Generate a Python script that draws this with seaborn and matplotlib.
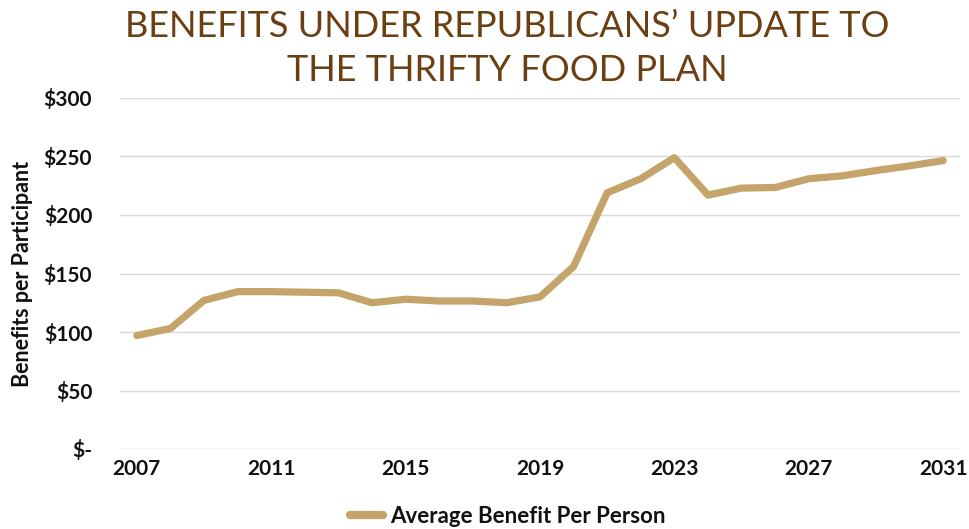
import matplotlib
matplotlib.use("Agg")
import matplotlib.pyplot as plt
import seaborn as sns
import pandas as pd
from matplotlib.ticker import FuncFormatter

years = list(range(2007, 2032))
benefits = [97, 103, 127, 134.5, 134.5, 134, 133.5, 125, 128, 126.5, 126.5, 125, 130,
            156, 219, 231, 249, 217, 223, 223.5, 231, 233.5, 238, 242, 246.5]
series_name = "Average Benefit Per Person"
title = "BENEFITS UNDER REPUBLICANS\u2019 UPDATE TO\nTHE THRIFTY FOOD PLAN"
y_label = "Benefits per Participant"
x_ticks = [2007, 2011, 2015, 2019, 2023, 2027, 2031]
y_ticks = [0, 50, 100, 150, 200, 250, 300]

df = pd.DataFrame({"Year": years, "Benefit": benefits, "Series": series_name})

sns.set_theme(style="white")
plt.rcParams["font.family"] = ["Lato", "DejaVu Sans"]

fig = plt.figure(figsize=(9.7, 5.29), dpi=100)
ax = fig.add_axes([120 / 970, 1 - 449 / 529, 840 / 970, 351 / 529])

sns.lineplot(data=df, x="Year", y="Benefit", hue="Series", palette=["#C4A46B"],
             linewidth=5.2, ax=ax, legend=True)
for ln in ax.lines:
    ln.set_solid_capstyle("round")
    ln.set_solid_joinstyle("round")

ax.set_xlim(2006.5, 2031.5)
ax.set_ylim(0, 300)
ax.set_xticks(x_ticks)
ax.set_yticks(y_ticks)
ax.yaxis.set_major_formatter(FuncFormatter(lambda v, p: "$-" if v == 0 else f"${int(v)}"))
ax.grid(axis="y", color="#D9D9D9", linewidth=1)
ax.set_axisbelow(True)
for s in ax.spines.values():
    s.set_visible(False)
ax.tick_params(axis="both", length=0, labelsize=15, colors="#111111")
ax.tick_params(axis="y", pad=20)
ax.tick_params(axis="x", pad=7)
for lab in ax.get_xticklabels() + ax.get_yticklabels():
    lab.set_fontweight("bold")
ax.set_xlabel("")
ax.set_ylabel(y_label, fontsize=15.5, fontweight="bold", color="#111111", labelpad=8)

leg = ax.legend(loc="upper center", bbox_to_anchor=(0.462, -0.105), frameon=False,
                fontsize=16, handlelength=1.45, handletextpad=0.35)
for t in leg.get_texts():
    t.set_fontweight("bold")
    t.set_color("#111111")
for h in leg.get_lines():
    h.set_linewidth(6)
    h.set_solid_capstyle("round")

fig.text(0.523, 0.982, title, ha="center", va="top", fontsize=26, color="#6B3F12",
         fontweight="normal", linespacing=1.42)

fig.savefig("out.png", dpi=100)
